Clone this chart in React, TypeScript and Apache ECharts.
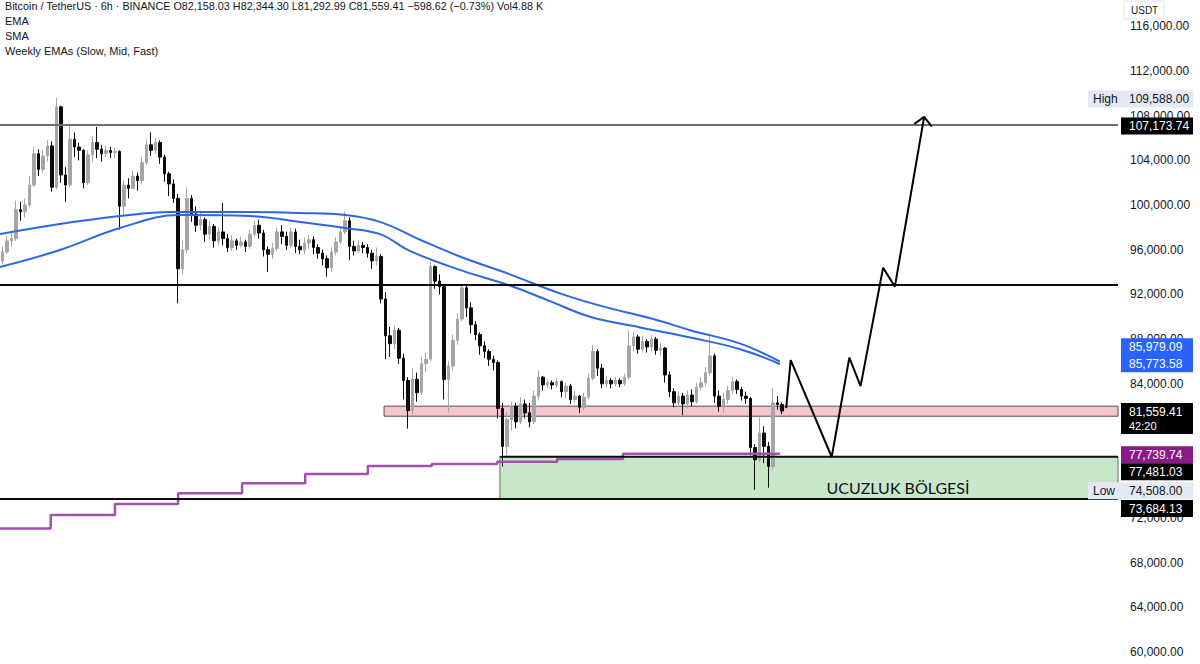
import React, { useEffect, useRef } from "react";
import * as echarts from "echarts";

const FONT = "'Liberation Sans', Arial, sans-serif";
const K = 1000; // all prices below are in thousands of USDT

// ---- candles (12h buckets), open = previous close ----
const firstOpen = 95.0;
const closes = [
  95.8, 96.8, 97.0, 99.6, 99.4, 100.0, 101.8, 104.6, 103.2, 104.4,
  105.3, 101.6, 108.8, 102.7, 101.8, 105.9, 105.2, 104.9, 102.0, 104.5,
  105.6, 105.0, 104.6, 104.9, 104.7, 104.8, 99.9, 101.8, 101.5, 102.6,
  102.2, 103.8, 105.4, 104.9, 105.6, 104.3, 102.8, 101.9, 100.6, 94.3,
  96.0, 100.6, 99.2, 98.2, 98.7, 97.4, 98.1, 96.8, 97.6, 97.0,
  96.2, 96.8, 96.4, 96.7, 96.3, 97.4, 98.2, 97.5, 96.0, 95.6,
  96.1, 97.6, 97.2, 96.4, 97.6, 96.3, 96.0, 96.6, 96.9, 96.2,
  95.7, 95.2, 94.4, 95.8, 96.7, 97.6, 98.6, 96.3, 95.9, 96.4,
  96.2, 95.7, 95.0, 95.4, 91.6, 88.3, 87.6, 88.8, 86.3, 84.3,
  81.6, 84.4, 83.2, 85.8, 86.2, 94.5, 93.2, 92.7, 84.4, 85.6,
  87.9, 89.8, 92.6, 90.8, 89.3, 88.4, 87.4, 86.9, 86.2, 85.9,
  81.8, 78.4, 80.8, 82.0, 80.6, 82.2, 81.4, 80.6, 82.9, 84.6,
  83.9, 84.1, 83.9, 84.2, 83.3, 83.8, 82.6, 82.9, 81.9, 82.8,
  84.5, 86.9, 85.4, 84.0, 84.3, 84.0, 84.3, 84.0, 84.6, 87.4,
  88.2, 87.1, 87.8, 87.3, 88.0, 87.0, 87.2, 84.8, 83.3, 82.3,
  82.9, 82.2, 83.0, 82.4, 83.7, 84.1, 85.0, 86.5, 82.9, 82.0,
  82.6, 83.4, 84.2, 83.5, 82.9, 82.7, 78.3, 77.2, 79.6, 78.4,
  76.6, 82.3, 82.158, 81.559,
];
const highs = [
  96.3, 97.2, 97.6, 100.4, 100.3, 100.6, 102.6, 105.2, 105.0, 104.9,
  105.8, 105.7, 109.588, 108.9, 103.4, 107.3, 106.5, 105.6, 105.0, 104.9,
  106.2, 107.0, 105.4, 105.3, 105.2, 105.1, 104.9, 102.2, 102.4, 103.1,
  102.9, 104.3, 105.9, 106.5, 106.0, 105.8, 104.5, 103.0, 102.3, 101.0,
  96.8, 101.6, 100.9, 99.9, 99.5, 98.9, 98.6, 98.3, 98.0, 100.2,
  97.4, 97.3, 97.0, 97.2, 96.9, 97.8, 98.6, 98.7, 97.8, 96.3,
  96.6, 98.0, 98.2, 97.6, 98.0, 97.9, 96.9, 97.1, 97.3, 97.2,
  96.5, 96.0, 95.5, 96.2, 97.1, 98.1, 99.4, 98.9, 96.8, 96.9,
  96.7, 96.5, 96.0, 96.2, 95.6, 92.2, 89.1, 89.2, 89.0, 86.7,
  84.6, 85.4, 85.0, 86.4, 86.8, 94.9, 94.6, 93.8, 92.9, 86.0,
  88.4, 90.3, 92.9, 92.8, 91.3, 89.6, 88.6, 87.8, 87.1, 86.5,
  86.1, 82.3, 81.5, 82.4, 82.3, 82.8, 82.6, 82.3, 83.4, 85.2,
  84.7, 84.4, 84.3, 84.5, 84.3, 84.1, 84.0, 83.4, 83.0, 83.2,
  84.9, 87.5, 87.1, 85.8, 84.7, 84.5, 84.6, 84.5, 84.9, 88.8,
  88.6, 88.4, 88.3, 88.0, 88.4, 88.2, 87.7, 87.3, 85.1, 83.6,
  83.3, 83.2, 83.4, 83.5, 84.1, 84.6, 85.5, 88.5, 86.7, 83.4,
  83.2, 83.8, 84.6, 84.4, 83.7, 83.3, 82.8, 78.6, 81.0, 80.2,
  78.8, 83.6, 82.9, 82.344,
];
const lows = [
  94.7, 95.6, 96.3, 96.8, 98.6, 98.9, 99.8, 101.6, 102.6, 102.9,
  103.9, 101.2, 101.4, 102.0, 100.3, 101.6, 104.3, 104.0, 101.5, 101.8,
  103.9, 104.2, 103.9, 104.3, 104.2, 104.2, 97.8, 99.1, 100.6, 101.4,
  101.3, 101.9, 103.6, 104.4, 104.6, 103.7, 102.1, 100.8, 100.2, 91.2,
  93.8, 95.7, 98.5, 97.6, 97.7, 96.7, 96.9, 96.2, 96.4, 96.4,
  95.8, 95.9, 96.0, 96.2, 95.8, 96.1, 97.2, 97.0, 95.4, 94.0,
  95.2, 95.9, 96.5, 96.0, 96.2, 95.7, 95.6, 95.6, 96.1, 95.6,
  95.2, 94.6, 93.6, 94.0, 95.5, 96.5, 97.4, 95.1, 95.5, 95.7,
  95.7, 95.3, 94.3, 94.6, 91.2, 86.2, 86.4, 87.1, 85.8, 82.6,
  80.0, 81.1, 82.4, 83.0, 85.0, 86.0, 92.5, 92.0, 82.6, 81.5,
  85.2, 87.5, 89.6, 90.0, 88.5, 87.9, 86.6, 86.3, 85.6, 85.2,
  80.9, 76.6, 77.6, 79.8, 80.0, 80.4, 80.9, 80.1, 80.4, 82.5,
  83.4, 83.6, 83.5, 83.7, 82.8, 82.7, 82.2, 82.3, 81.4, 81.6,
  82.6, 84.3, 84.7, 83.6, 83.7, 83.6, 83.8, 83.7, 83.8, 84.4,
  86.9, 86.7, 86.9, 86.8, 86.9, 86.6, 86.5, 84.1, 82.8, 81.9,
  81.9, 81.2, 81.8, 82.0, 82.2, 83.4, 83.8, 84.7, 82.3, 81.5,
  81.4, 82.2, 83.1, 83.1, 82.5, 82.2, 77.6, 74.508, 77.0, 76.9,
  74.7, 76.3, 81.7, 81.293,
];

const slotCount = 248; // candle slots incl. empty future space
const slotLabels = Array.from({ length: slotCount }, (_, i) => `#${i}`);

// ---- indicator lines: [slot position, price] ----
const emaFast: [number, number][] = [
  [-0.5, 97.41], [12.8, 98.31], [26.1, 99.02], [37.2, 99.38], [55.0, 99.38],
  [66.1, 99.29], [76.0, 99.11], [83.8, 98.5], [92.7, 96.9], [101.5, 95.4],
  [112.6, 93.8], [123.7, 92.1], [132.6, 91.0], [144.4, 89.8], [152.6, 88.8],
  [163.7, 87.6], [172.5, 85.979],
];
const smaSlow: [number, number][] = [
  [-0.5, 94.46], [12.8, 95.98], [26.1, 97.95], [39.4, 99.11], [55.0, 99.02],
  [66.1, 98.49], [76.0, 97.95], [83.8, 97.4], [90.4, 95.9], [101.5, 94.2],
  [112.6, 92.8], [121.5, 91.4], [130.4, 90.0], [141.5, 89.05], [152.6, 88.15],
  [163.7, 87.1], [172.5, 85.774],
];
const weeklyEma: [number, number][] = [
  [-0.5, 71.06], [10.75, 72.26], [25.0, 73.24], [39.0, 74.2], [53.2, 75.09],
  [67.2, 75.93], [81.1, 76.64], [95.3, 76.82], [109.8, 77.03], [123.1, 77.27],
  [137.7, 77.74], [172.5, 77.74],
];

// ---- drawn projection ----
const projection: [number, number][] = [
  [173.9, 81.83], [174.9, 86.13], [184.0, 77.45], [187.9, 86.34], [190.4, 83.8],
  [195.4, 94.4], [198.0, 92.7], [204.5, 107.9],
];
const arrowHead: [number, number][] = [[202.3, 107.26], [204.5, 107.9], [206.2, 107.02]];

// ---- levels and zones ----
const levelTop = 107.17374;
const levelMid = 92.85;
const levelBottom = 73.68413;
const zoneTopLine = 77.48103;
const zones = [
  { x0: 84.7, x1: 247.5, top: 82.0, bottom: 81.1, fill: "#f7c6cc", stroke: "#4d4d4d" },
  { x0: 110.4, x1: 247.5, top: 77.48103, bottom: 73.68413, fill: "#c8e6c9", stroke: "#6a6a6a" },
];
const zoneLabel = { x: 198.7, y: 74.76, text: "UCUZLUK BÖLGESİ" };

// axis ticks fully covered by price tags in the reference
const coveredTicks = [80000, 76000];

const headerLines = [
  "Bitcoin / TetherUS · 6h · BINANCE O82,158.03 H82,344.30 L81,292.99 C81,559.41 −598.62 (−0.73%) Vol4.88 K",
  "EMA",
  "SMA",
  "Weekly EMAs (Slow, Mid, Fast)",
];

// ---- right-hand price tags ----
const priceTags = [
  { value: 109.588, lines: ["109,588.00"], side: "High", bg: "#e4e9f4", fg: "#131722", dy: 1 },
  { value: 107.17374, lines: ["107,173.74"], side: "", bg: "#000000", fg: "#ffffff", dy: 1 },
  { value: 85.979, lines: ["85,979.09", "85,773.58"], side: "", bg: "#2962ff", fg: "#ffffff", dy: -15 },
  { value: 81.559, lines: ["81,559.41", "42:20"], side: "", bg: "#000000", fg: "#ffffff", dy: 0.5 },
  { value: 77.7397, lines: ["77,739.74"], side: "", bg: "#8b1a89", fg: "#ffffff", dy: 1 },
  { value: 77.48103, lines: ["77,481.03"], side: "", bg: "#000000", fg: "#ffffff", dy: 15 },
  { value: 74.508, lines: ["74,508.00"], side: "Low", bg: "#e4e9f4", fg: "#131722", dy: 1 },
  { value: 73.68413, lines: ["73,684.13"], side: "", bg: "#000000", fg: "#ffffff", dy: 9.5 },
];

export default function App() {
  const ref = useRef<HTMLDivElement>(null);

  useEffect(() => {
    if (!ref.current) return;
    const chart = echarts.init(ref.current, null, { renderer: "svg" });

    const candles = closes.map((c, i) => {
      const o = i === 0 ? firstOpen : closes[i - 1];
      const h = Math.max(highs[i], o, c);
      const l = Math.min(lows[i], o, c);
      return [o * K, c * K, l * K, h * K];
    });
    const toPairs = (pts: [number, number][]) => pts.map(([x, v]) => [x, v * K]);
    const hLine = (x0: number, x1: number, v: number) => [[x0, v * K], [x1, v * K]];

    const lineBase = {
      type: "line",
      xAxisIndex: 1,
      yAxisIndex: 0,
      symbol: "none",
      silent: true,
    };

    const series: any[] = [
      {
        type: "custom",
        xAxisIndex: 1,
        yAxisIndex: 0,
        z: 1,
        silent: true,
        data: zones.map((zn) => [zn.x0, zn.x1, zn.top * K, zn.bottom * K]),
        encode: { x: [0, 1], y: [2, 3] },
        renderItem: (params: any, api: any) => {
          const zn = zones[params.dataIndex];
          const p0 = api.coord([api.value(0), api.value(2)]);
          const p1 = api.coord([api.value(1), api.value(3)]);
          return {
            type: "rect",
            shape: { x: p0[0], y: p0[1], width: p1[0] - p0[0], height: p1[1] - p0[1] },
            style: { fill: zn.fill, stroke: zn.stroke, lineWidth: 1 },
          };
        },
      },
      {
        type: "candlestick",
        xAxisIndex: 0,
        yAxisIndex: 0,
        z: 3,
        barWidth: 3,
        silent: true,
        data: candles,
        itemStyle: {
          color: "#a6a6a6",
          color0: "#0b0b0b",
          borderColor: "#a6a6a6",
          borderColor0: "#0b0b0b",
          borderWidth: 1,
        },
      },
      { ...lineBase, z: 4, data: toPairs(weeklyEma), step: "end", lineStyle: { color: "#a052ad", width: 2.5 } },
      { ...lineBase, z: 4, data: toPairs(emaFast), smooth: 0.4, lineStyle: { color: "#2f66e8", width: 2 } },
      { ...lineBase, z: 4, data: toPairs(smaSlow), smooth: 0.4, lineStyle: { color: "#2f66e8", width: 2 } },
      { ...lineBase, z: 5, data: hLine(-0.5, slotCount - 0.5, levelTop), lineStyle: { color: "#6e6e6e", width: 2 } },
      { ...lineBase, z: 5, data: hLine(-0.5, slotCount - 0.5, levelMid), lineStyle: { color: "#0d0d0d", width: 2 } },
      { ...lineBase, z: 5, data: hLine(-0.5, slotCount - 0.5, levelBottom), lineStyle: { color: "#0d0d0d", width: 2 } },
      { ...lineBase, z: 5, data: hLine(zones[1].x0, slotCount - 0.5, zoneTopLine), lineStyle: { color: "#0d0d0d", width: 2 } },
      { ...lineBase, z: 6, data: toPairs(projection), lineStyle: { color: "#000000", width: 2 } },
      { ...lineBase, z: 6, data: toPairs(arrowHead), lineStyle: { color: "#000000", width: 2 } },
    ];
    const refSeries = series.length - 2;

    chart.setOption({
      animation: false,
      backgroundColor: "#ffffff",
      grid: { left: 0, right: 82, top: -18.3, bottom: -32.6, containLabel: false, outerBoundsMode: "none" },
      xAxis: [
        { type: "category", data: slotLabels, show: false, boundaryGap: true },
        { type: "value", min: -0.5, max: slotCount - 0.5, show: false },
      ],
      yAxis: {
        type: "value",
        position: "right",
        min: 56000,
        max: 120000,
        interval: 4000,
        axisLine: { show: false },
        axisTick: { show: false },
        splitLine: { show: false },
        axisLabel: {
          color: "#131722",
          fontSize: 12,
          fontFamily: FONT,
          margin: 12,
          showMinLabel: false,
          showMaxLabel: false,
          formatter: (v: number) =>
            coveredTicks.includes(v)
              ? ""
              : v.toLocaleString("en-US", { minimumFractionDigits: 2, maximumFractionDigits: 2 }),
        },
      },
      series,
    });

    const toPx = (x: number, v: number) =>
      chart.convertToPixel({ seriesIndex: refSeries }, [x, v * K]) as number[];
    const yPx = (v: number) => toPx(0, v)[1];

    const txt = (text: string, x: number, y: number, fill: string, size = 12, extra: any = {}) => ({
      type: "text",
      z: 100,
      silent: true,
      style: {
        text,
        x,
        y,
        fill,
        fontSize: size,
        fontFamily: FONT,
        align: "left",
        verticalAlign: "middle",
        textAlign: "left",
        textVerticalAlign: "middle",
        ...extra,
      },
    });

    const graphics: any[] = [];
    headerLines.forEach((line, i) => {
      graphics.push(txt(line, 5, 6 + i * 15, "#131722", i === 0 ? 10.8 : 11));
    });
    graphics.push({
      type: "rect",
      z: 99,
      silent: true,
      shape: { x: 1124, y: 1, width: 40, height: 18 },
      style: { fill: "#ffffff", stroke: "#e0e3eb", lineWidth: 1 },
    });
    graphics.push(txt("USDT", 1131, 10, "#131722", 10));

    const boxL = 1121;
    const boxR = 1193;
    priceTags.forEach((t) => {
      const c = yPx(t.value) + t.dy;
      const n = t.lines.length;
      const gap = n > 1 && t.bg === "#000000" ? 14 : 17;
      const h = 17 + (n - 1) * gap;
      const left = t.side ? 1088 : boxL;
      graphics.push({
        type: "rect",
        z: 100,
        silent: true,
        shape: { x: left, y: c - 8.5, width: boxR - left, height: h },
        style: { fill: t.bg },
      });
      if (t.side) graphics.push(txt(t.side, 1093, c, t.fg, 12));
      t.lines.forEach((ln, k) => {
        graphics.push(txt(ln, 1129, c + k * gap, t.fg, k > 0 && gap === 14 ? 11 : 12));
      });
    });

    const lp = toPx(zoneLabel.x, zoneLabel.y);
    graphics.push({
      type: "text",
      z: 100,
      silent: true,
      style: {
        text: zoneLabel.text,
        x: lp[0],
        y: lp[1],
        fill: "#111111",
        fontSize: 16,
        fontFamily: "Lato, 'Open Sans', sans-serif",
        align: "center",
        verticalAlign: "middle",
        textAlign: "center",
        textVerticalAlign: "middle",
      },
    });

    chart.setOption({ graphic: graphics });

    return () => chart.dispose();
  }, []);

  return (
    <div
      ref={ref}
      style={{ position: "fixed", left: 0, top: 0, width: 1200, height: 664, background: "#ffffff" }}
    />
  );
}
